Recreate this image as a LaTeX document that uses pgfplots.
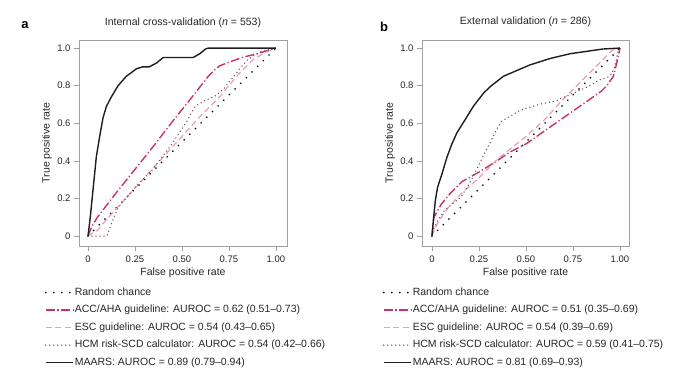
\documentclass[border=0pt]{standalone}
\usepackage{pgfplots}
\pgfplotsset{compat=1.18}
\usepackage{fontspec}
\setmainfont{Liberation Sans}
\definecolor{accc}{HTML}{C7355D}
\definecolor{escc}{HTML}{EC9DB2}
\definecolor{hcmc}{HTML}{7A4474}
\definecolor{maarsc}{HTML}{1E1E1E}
\definecolor{framec}{HTML}{A0A0A0}
\definecolor{txtc}{HTML}{262626}
\pgfplotsset{
  rocaxis/.style={
    scale only axis,
    height=206pt,
    ymin=-0.053, ymax=1.043,
    axis line style={framec, line width=0.6pt},
    tick style={framec, line width=0.6pt},
    tick align=outside,
    major tick length=5pt,
    xtick pos=bottom, ytick pos=left,
    xtick={0,0.25,0.5,0.75,1},
    xticklabels={0,0.25,0.50,0.75,1.00},
    ytick={0,0.2,0.4,0.6,0.8,1},
    yticklabels={0,0.2,0.4,0.6,0.8,1.0},
    /pgf/number format/assume math mode=true,
    tick label style={font=\fontsize{9.5}{10}\selectfont, text=txtc},
    xticklabel style={yshift=-1pt},
    label style={font=\fontsize{10.5}{12}\selectfont, text=txtc},
    title style={font=\fontsize{10.5}{12}\selectfont, text=txtc, anchor=center},
    xlabel={False positive rate},
    ylabel={True positive rate},
    xlabel style={at={(axis description cs:0.5,-0.131)}, anchor=center},
    ylabel style={at={(axis description cs:-0.154,0.5)}, anchor=center},
    legend cell align=left,
    legend style={draw=none, fill=none, anchor=north west, inner sep=0pt,
      font=\fontsize{10.5}{12}\selectfont, text=txtc,
      row sep=5pt,
      nodes={inner sep=1pt, text height=8pt, text depth=2.5pt},
      /tikz/every even column/.append style={column sep=3pt}},
    legend image code/.code={\draw[#1] (0pt,0pt) -- (27pt,0pt);},
  },
  randst/.style={black, line width=1.9pt, line cap=round, dash pattern=on 0pt off 8pt},
  accst/.style={accc, line width=1.4pt, dash pattern=on 9pt off 2.5pt on 1.2pt off 2.5pt},
  escst/.style={escc, line width=1.2pt, dash pattern=on 6pt off 3.5pt},
  hcmst/.style={hcmc, line width=1.5pt, line cap=round, dash pattern=on 0pt off 4pt},
  maarsst/.style={maarsc, line width=1.4pt},
}
\begin{document}
\begin{tikzpicture}
\path[use as bounding box] (0pt,0pt) rectangle (700pt,379pt);
\node[font=\fontsize{13}{14}\selectfont\bfseries, anchor=center] at (25pt,354pt) {a};
\node[font=\fontsize{13}{14}\selectfont\bfseries, anchor=center] at (384pt,352pt) {b};
\begin{axis}[rocaxis, at={(79pt,133pt)}, anchor=south west,
  width=208pt, xmin=-0.048, xmax=1.059,
  title={Internal cross-validation (\textit{n} = 553)},
  title style={at={(axis description cs:0.5,1.053)}},
  legend style={at={(axis description cs:-0.165,-0.195)}}]
\addplot[randst] coordinates {(0,0) (1,1)};
\addlegendentry{Random chance}
\addplot[accst] coordinates {(0,0)(0.02,0.05)(0.05,0.10)(0.15,0.23)(0.25,0.355)(0.35,0.48)(0.45,0.61)(0.55,0.735)(0.64,0.85)(0.67,0.88)(0.70,0.905)(0.75,0.925)(0.82,0.95)(0.9,0.97)(1,1)};
\addlegendentry{ACC/AHA guideline: AUROC = 0.62 (0.51–0.73)}
\addplot[escst] coordinates {(0,0)(0.05,0.03)(0.1,0.09)(0.2,0.2)(0.3,0.31)(0.4,0.42)(0.5,0.53)(0.6,0.64)(0.7,0.74)(0.8,0.86)(0.88,0.94)(0.95,0.98)(1,1)};
\addlegendentry{ESC guideline: AUROC = 0.54 (0.43–0.65)}
\addplot[hcmst] coordinates {(0,0)(0.02,0)(0.1,0)(0.13,0.08)(0.16,0.15)(0.25,0.26)(0.34,0.35)(0.44,0.48)(0.52,0.6)(0.57,0.69)(0.62,0.72)(0.67,0.74)(0.72,0.78)(0.8,0.88)(0.85,0.94)(0.92,0.98)(1,1)};
\addlegendentry{HCM risk-SCD calculator: AUROC = 0.54 (0.42–0.66)}
\addplot[maarsst] coordinates {(0,0)(0.012,0.1)(0.023,0.21)(0.033,0.31)(0.044,0.42)(0.062,0.53)(0.08,0.63)(0.098,0.69)(0.124,0.74)(0.16,0.80)(0.204,0.85)(0.258,0.89)(0.29,0.90)(0.325,0.90)(0.364,0.92)(0.40,0.95)(0.56,0.95)(0.595,0.97)(0.625,0.995)(0.64,1.0)(1,1)};
\addlegendentry{MAARS: AUROC = 0.89 (0.79–0.94)}
\end{axis}
\begin{axis}[rocaxis, at={(422pt,133pt)}, anchor=south west,
  width=207pt, xmin=-0.053, xmax=1.048,
  title={External validation (\textit{n} = 286)},
  title style={at={(axis description cs:0.5,1.058)}},
  legend style={at={(axis description cs:-0.19,-0.195)}}]
\addplot[randst] coordinates {(0,0) (1,1)};
\addlegendentry{Random chance}
\addplot[accst] coordinates {(0,0)(0.01,0.1)(0.05,0.17)(0.1,0.23)(0.16,0.29)(0.25,0.34)(0.33,0.39)(0.42,0.45)(0.5,0.49)(0.6,0.56)(0.7,0.63)(0.8,0.70)(0.9,0.77)(0.93,0.80)(0.965,0.85)(0.99,0.95)(1,1)};
\addlegendentry{ACC/AHA guideline: AUROC = 0.51 (0.35–0.69)}
\addplot[escst] coordinates {(0,0)(0.03,0.07)(0.085,0.15)(0.15,0.22)(0.25,0.31)(0.35,0.41)(0.5,0.53)(0.6,0.62)(0.7,0.73)(0.8,0.83)(0.9,0.93)(0.96,0.99)(1,1)};
\addlegendentry{ESC guideline: AUROC = 0.54 (0.39–0.69)}
\addplot[hcmst] coordinates {(0,0)(0.005,0.03)(0.03,0.08)(0.067,0.138)(0.12,0.18)(0.156,0.21)(0.2,0.28)(0.245,0.37)(0.28,0.44)(0.316,0.51)(0.35,0.58)(0.37,0.61)(0.42,0.64)(0.47,0.67)(0.57,0.70)(0.66,0.72)(0.75,0.76)(0.82,0.79)(0.89,0.83)(0.947,0.85)(0.973,0.90)(0.99,0.98)(1,1)};
\addlegendentry{HCM risk-SCD calculator: AUROC = 0.59 (0.41–0.75)}
\addplot[maarsst] coordinates {(0,0)(0.009,0.10)(0.018,0.19)(0.03,0.26)(0.053,0.33)(0.08,0.42)(0.106,0.49)(0.133,0.55)(0.177,0.62)(0.22,0.69)(0.274,0.76)(0.31,0.795)(0.38,0.85)(0.45,0.88)(0.52,0.91)(0.63,0.945)(0.735,0.97)(0.84,0.985)(0.91,0.995)(1,1)};
\addlegendentry{MAARS: AUROC = 0.81 (0.69–0.93)}
\end{axis}
\end{tikzpicture}
\end{document}
